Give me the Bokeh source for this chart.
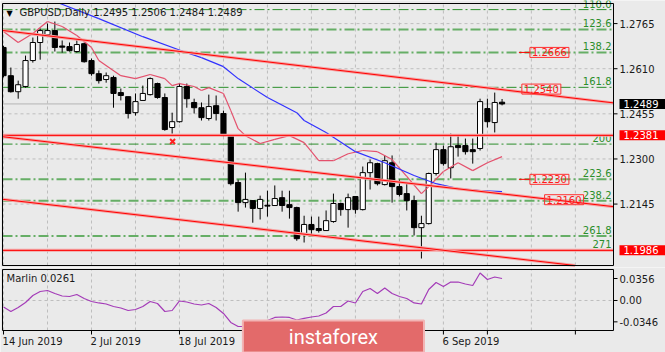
from bokeh.plotting import figure
from bokeh.layouts import column
from bokeh.models import Range1d, Label, ColumnDataSource
from bokeh.core.properties import value
from bokeh.embed import file_html
from bokeh.resources import INLINE

# ---------------- data ----------------
title_text = "GBPUSD,Daily  1.2495 1.2506 1.2484 1.2489"
opens = [1.2683, 1.2586, 1.2531, 1.2549, 1.2638, 1.2700, 1.2727, 1.2741, 1.2688, 1.2686,
         1.2669, 1.2696, 1.2638, 1.2593, 1.2573, 1.2580, 1.2528, 1.2514, 1.2459, 1.2501,
         1.2521, 1.2559, 1.2511, 1.2408, 1.2428, 1.2549, 1.2494, 1.2476, 1.2439, 1.2483,
         1.2456, 1.2380, 1.2219, 1.2150, 1.2157, 1.2130, 1.2141, 1.2140, 1.2167, 1.2143,
         1.2133, 1.2044, 1.2075, 1.2061, 1.2054, 1.2085, 1.2147, 1.2126, 1.2171, 1.2126,
         1.2253, 1.2284, 1.2212, 1.2287, 1.2205, 1.2181, 1.2157, 1.2064, 1.2078, 1.2250,
         1.2332, 1.2270, 1.2346, 1.2346, 1.2332, 1.2336, 1.2473, 1.2425, 1.2495]
highs = [1.2689, 1.2614, 1.2569, 1.2655, 1.2717, 1.2748, 1.2765, 1.2772, 1.2707, 1.2700,
         1.2713, 1.2700, 1.2645, 1.2604, 1.2597, 1.2586, 1.2542, 1.2514, 1.2525, 1.2552,
         1.2580, 1.2562, 1.2525, 1.2459, 1.2559, 1.2559, 1.2507, 1.2494, 1.2521, 1.2518,
         1.2466, 1.2380, 1.2229, 1.2253, 1.2157, 1.2174, 1.2191, 1.2209, 1.2191, 1.2191,
         1.2136, 1.2105, 1.2102, 1.2102, 1.2123, 1.2181, 1.2150, 1.2181, 1.2171, 1.2274,
         1.2298, 1.2287, 1.2312, 1.2312, 1.2229, 1.2215, 1.2174, 1.2105, 1.2253, 1.2356,
         1.2346, 1.2387, 1.2380, 1.2370, 1.2370, 1.2507, 1.2507, 1.2528, 1.2506]
lows = [1.2580, 1.2528, 1.2507, 1.2545, 1.2631, 1.2641, 1.2724, 1.2669, 1.2665, 1.2669,
        1.2665, 1.2631, 1.2586, 1.2559, 1.2562, 1.2476, 1.2501, 1.2439, 1.2449, 1.2501,
        1.2518, 1.2507, 1.2397, 1.2387, 1.2425, 1.2476, 1.2456, 1.2432, 1.2432, 1.2432,
        1.2377, 1.2209, 1.2119, 1.2133, 1.2081, 1.2092, 1.2102, 1.2140, 1.2119, 1.2095,
        1.2019, 1.2013, 1.2037, 1.2047, 1.2054, 1.2081, 1.2105, 1.2064, 1.2112, 1.2123,
        1.2195, 1.2209, 1.2209, 1.2150, 1.2171, 1.2123, 1.2037, 1.1958, 1.2075, 1.2243,
        1.2277, 1.2233, 1.2308, 1.2315, 1.2284, 1.2329, 1.2408, 1.2391, 1.2484]
closes = [1.2586, 1.2531, 1.2555, 1.2638, 1.2700, 1.2741, 1.2741, 1.2683, 1.2684, 1.2672,
          1.2693, 1.2634, 1.2593, 1.2569, 1.2586, 1.2525, 1.2518, 1.2456, 1.2497, 1.2525,
          1.2576, 1.2511, 1.2401, 1.2428, 1.2549, 1.2507, 1.2476, 1.2442, 1.2480, 1.2456,
          1.2380, 1.2215, 1.2150, 1.2161, 1.2130, 1.2161, 1.2138, 1.2164, 1.2140, 1.2133,
          1.2026, 1.2075, 1.2057, 1.2054, 1.2088, 1.2147, 1.2126, 1.2167, 1.2126, 1.2253,
          1.2287, 1.2215, 1.2294, 1.2205, 1.2178, 1.2157, 1.2064, 1.2078, 1.2250, 1.2332,
          1.2284, 1.2342, 1.2339, 1.2325, 1.2325, 1.2497, 1.2428, 1.2494, 1.2489]

date_tick_index = [0, 12, 24, 36, 48, 60]
date_tick_labels = ["14 Jun 2019", "2 Jul 2019", "18 Jul 2019", "5 Aug 2019", "21 Aug 2019", "6 Sep 2019"]
date_extra_ticks = [66, 78]
price_ticks = [1.2765, 1.2610, 1.2455, 1.2300, 1.2145]

fib_names = ["110.0", "123.6", "138.2", "161.8", "200", "223.6", "238.2", "261.8", "271"]
fib_prices = [1.2813, 1.2745, 1.2666, 1.2546, 1.2351, 1.2230, 1.2156, 1.2035, 1.1988]
fib_bold = ["123.6", "138.2", "223.6", "238.2", "261.8"]

red_levels = [1.2381, 1.1986]
current_price = 1.2489

# trend lines: (start index, start price, end index, end price)
trend_start_idx = [0, 0, 0]
trend_start_price = [1.2741, 1.2376, 1.2161]
trend_end_idx = [68, 68, 68]
trend_end_price = [1.2538, 1.2180, 1.1963]

ma_fast_idx = [0, 2, 4, 6, 8, 10, 12, 13, 16, 18, 20, 22, 23, 24, 26, 27, 28, 30, 31, 32,
               33, 35, 37, 39, 41, 43, 45, 47, 49, 51, 53, 55, 57, 58, 60, 62, 64, 66, 68]
ma_fast_val = [1.2738, 1.2700, 1.2731, 1.2772, 1.2755, 1.2724, 1.2683, 1.2638, 1.2586, 1.2576,
               1.2590, 1.2576, 1.2552, 1.2559, 1.2549, 1.2535, 1.2545, 1.2525, 1.2466, 1.2404,
               1.2380, 1.2353, 1.2367, 1.2380, 1.2356, 1.2294, 1.2294, 1.2318, 1.2329, 1.2325,
               1.2298, 1.2240, 1.2181, 1.2205, 1.2257, 1.2287, 1.2260, 1.2287, 1.2308]
ma_slow_idx = [7, 13, 19, 25, 27, 30, 32, 36, 40, 41, 44, 48, 52, 56, 59, 62, 65, 68]
ma_slow_val = [1.2841, 1.2782, 1.2720, 1.2665, 1.2648, 1.2617, 1.2576, 1.2511, 1.2459, 1.2432,
               1.2391, 1.2325, 1.2287, 1.2243, 1.2215, 1.2198, 1.2191, 1.2188]

marlin = [-0.0105, -0.0178, -0.0113, -0.0032, 0.0081, 0.0146, 0.0162, 0.0113, 0.0073, 0.0065,
          0.0097, 0.0032, -0.0016, -0.0040, -0.0057, -0.0097, -0.0121, -0.0162, -0.0146, -0.0097,
          -0.0016, -0.0049, -0.0178, -0.0162, -0.0008, -0.0024, -0.0057, -0.0073, -0.0049, -0.0113,
          -0.0210, -0.0356, -0.0421, -0.0421, -0.0405, -0.0372, -0.0324, -0.0275, -0.0267, -0.0275,
          -0.0316, -0.0291, -0.0267, -0.0251, -0.0202, -0.0097, -0.0097, -0.0008, -0.0040, 0.0146,
          0.0194, 0.0113, 0.0202, 0.0113, 0.0065, 0.0032, -0.0040, -0.0057, 0.0178, 0.0291,
          0.0227, 0.0299, 0.0299, 0.0267, 0.0243, 0.0445, 0.0340, 0.0380, 0.0356]
marlin_label = "Marlin 0.0261"
marlin_ticks = [0.0356, 0.0, -0.0346]
marlin_tick_labels = ["0.0356", "0.00", "-0.0346"]

note_texts = ["1.2666", "1.2540", "1.2230", "1.2160"]
note_prices = [1.2666, 1.2540, 1.2230, 1.2160]
note_idx = [71.8, 70.7, 71.8, 73.8]
leader_notes = ["1.2666", "1.2230"]

cross_idx = [23.06]
cross_price = [1.2360]

watermark = "instaforex"
watermark_idx = 45.0

# ---------------- geometry / styling ----------------
BG = "#EAEAEA"
FONT = "DejaVu Sans"
FS = "10px"
TXT = "#1A1A1A"
GRID_C = "#BEBEBE"
W = 665
# panel data limits
x_lo, x_hi = -0.14, 83.2
y_lo, y_hi = 1.1934, 1.2834
m_lo, m_hi = -0.0486, 0.0502
# panel pixel box inside each figure
PL, PR = 2, 613
MAIN_H, MAIN_PT, MAIN_PB = 267, 3, 265
LOW_H, LOW_PT, LOW_PB = 85, 2, 63

kx = (PR - PL) / (x_hi - x_lo)              # px per bar
ky = (MAIN_PB - MAIN_PT) / (y_hi - y_lo)    # px per price unit
km = (LOW_PB - LOW_PT) / (m_hi - m_lo)      # px per marlin unit

fx = Range1d(x_lo - PL / kx, x_hi + (W - PR) / kx)
fy = Range1d(y_lo - (MAIN_H - MAIN_PB) / ky, y_hi + MAIN_PT / ky)
fm = Range1d(m_lo - (LOW_H - LOW_PB) / km, m_hi + LOW_PT / km)


def clip_seg(x0, y0, x1, y1, lo, hi):
    dy = y1 - y0
    if dy == 0:
        return (x0, y0, x1, y1) if lo <= y0 <= hi else None
    ta, tb = (lo - y0) / dy, (hi - y0) / dy
    t0, t1 = max(0.0, min(ta, tb)), min(1.0, max(ta, tb))
    if t0 >= t1:
        return None
    return (x0 + (x1 - x0) * t0, y0 + dy * t0, x0 + (x1 - x0) * t1, y0 + dy * t1)


def clipped_polyline(fig, xs, ys, lo, hi, **kw):
    segs = [clip_seg(xs[k], ys[k], xs[k + 1], ys[k + 1], lo, hi) for k in range(len(xs) - 1)]
    segs = [s for s in segs if s]
    fig.segment(x0=[s[0] for s in segs], y0=[s[1] for s in segs],
                x1=[s[2] for s in segs], y1=[s[3] for s in segs], **kw)


def hline(fig, yv, **kw):
    fig.segment(x0=[x_lo], y0=[yv], x1=[x_hi], y1=[yv], **kw)


def new_fig(h, yr):
    f = figure(width=W, height=h, x_range=fx, y_range=yr, output_backend="svg",
               toolbar_location=None, x_axis_location=None, y_axis_location=None,
               min_border=0, background_fill_color=BG, border_fill_color=BG,
               outline_line_color=None)
    f.grid.visible = False
    return f


grid_x = list(range(0, 84, 6))

# ================= main panel =================
p = new_fig(MAIN_H, fy)

# grid
p.segment(x0=grid_x, y0=[y_lo] * len(grid_x), x1=grid_x, y1=[y_hi] * len(grid_x),
          line_color=GRID_C, line_dash="3 3", line_width=1)
p.segment(x0=[x_lo] * len(price_ticks), y0=price_ticks, x1=[x_hi] * len(price_ticks),
          y1=price_ticks, line_color=GRID_C, line_dash="3 3", line_width=1)

# fib levels
for name, pr in zip(fib_names, fib_prices):
    bold = name in fib_bold
    hline(p, pr, line_color="#66AE66" if bold else "#2A8E2A",
          line_width=2 if bold else 1, line_dash="10 3 2 3")
p.text(x=[x_hi - 2 / kx] * len(fib_names), y=[v + 2 / ky for v in fib_prices], text=fib_names,
       text_align="right", text_baseline="bottom", text_color="#2A8E2A",
       text_font=value(FONT), text_font_size=FS)

# current price line
hline(p, current_price, line_color="#B4B4B4", line_width=1)

# candles
idx = list(range(len(closes)))
half = 0.35
csrc = ColumnDataSource(dict(
    x=idx, h=highs, l=lows,
    left=[max(i - half, x_lo) for i in idx], right=[i + half for i in idx],
    top=[max(o, c) for o, c in zip(opens, closes)],
    bot=[min(o, c) for o, c in zip(opens, closes)],
    fill=["#FFFFFF" if c >= o else "#000000" for o, c in zip(opens, closes)]))
p.segment(x0="x", y0="h", x1="x", y1="l", source=csrc, line_color="#000000", line_width=1)
p.quad(left="left", right="right", top="top", bottom="bot", source=csrc,
       fill_color="fill", line_color="#000000", line_width=1)

# moving averages
clipped_polyline(p, ma_fast_idx, ma_fast_val, y_lo, y_hi, line_color="#E4506C", line_width=1.2)
clipped_polyline(p, ma_slow_idx, ma_slow_val, y_lo, y_hi, line_color="#3030FF", line_width=1.2)

# horizontal red levels
for lv in red_levels:
    hline(p, lv, line_color="#F5A3A3", line_width=3)
    hline(p, lv, line_color="#FF0000", line_width=1)

# trend lines
for i0, p0, i1, p1 in zip(trend_start_idx, trend_start_price, trend_end_idx, trend_end_price):
    g = (p1 - p0) / (i1 - i0)
    ya, yb = p0 + g * (x_lo - i0), p0 + g * (x_hi - i0)
    for col, lw in (("#F5A3A3", 3), ("#FF0000", 1)):
        clipped_polyline(p, [x_lo, x_hi], [ya, yb], y_lo, y_hi, line_color=col, line_width=lw)

p.scatter(cross_idx, cross_price, marker="x", size=7, line_color="#FF2020", line_width=2)

# price notes
for t, pr, xi in zip(note_texts, note_prices, note_idx):
    if t in leader_notes:
        p.segment(x0=[xi - 1.5], y0=[pr], x1=[xi], y1=[pr], line_color="#FF0000", line_width=1)
    p.add_layout(Label(x=xi, y=pr, text=t, text_align="left", text_baseline="middle",
                       text_color="#FF1A1A", text_font=FONT, text_font_size=FS,
                       border_line_color="#FF3030", border_line_width=1,
                       padding=dict(left=2, right=2, top=1, bottom=1)))

# panel border
p.quad(left=[x_lo], right=[x_hi], top=[y_hi], bottom=[y_lo], fill_color=None,
       line_color="#000000", line_width=1)

# price scale (right)
tick_len = 4 / kx
p.segment(x0=[x_hi] * len(price_ticks), y0=price_ticks, x1=[x_hi + tick_len] * len(price_ticks),
          y1=price_ticks, line_color="#000000", line_width=1)
p.text(x=[x_hi + 6 / kx] * len(price_ticks), y=price_ticks,
       text=["%.4f" % v for v in price_ticks], text_align="left", text_baseline="middle",
       text_color=TXT, text_font=value(FONT), text_font_size=FS)

box_vals = red_levels + [current_price]
box_cols = ["#FF0000", "#FF0000", "#000000"]
for lv, col in zip(box_vals, box_cols):
    p.add_layout(Label(x=x_hi + 6 / kx, y=lv, text="%.4f" % lv, text_align="left",
                       text_baseline="middle", text_color="#FFFFFF", text_font=FONT,
                       text_font_size=FS, background_fill_color=col,
                       padding=dict(left=4, right=12, top=1, bottom=1)))

# title
p.add_layout(Label(x=x_lo + 4 / kx, y=y_hi - 5 / ky, text="\u25bc", text_align="left",
                   text_baseline="top", text_color="#000000", text_font=FONT,
                   text_font_size="8px"))
p.add_layout(Label(x=x_lo + 17 / kx, y=y_hi - 3 / ky, text=title_text, text_align="left",
                   text_baseline="top", text_color=TXT, text_font=FONT, text_font_size=FS))

# ================= lower panel =================
q = new_fig(LOW_H, fm)
q.segment(x0=grid_x, y0=[m_lo] * len(grid_x), x1=grid_x, y1=[m_hi] * len(grid_x),
          line_color=GRID_C, line_dash="3 3", line_width=1)
hline(q, 0.0, line_color=GRID_C, line_dash="3 3", line_width=1)
q.line(idx, marlin, line_color="#A43CB8", line_width=1.2)
q.quad(left=[x_lo], right=[x_hi], top=[m_hi], bottom=[m_lo], fill_color=None,
       line_color="#000000", line_width=1)

q.segment(x0=[x_hi] * len(marlin_ticks), y0=marlin_ticks,
          x1=[x_hi + tick_len] * len(marlin_ticks), y1=marlin_ticks,
          line_color="#000000", line_width=1)
q.text(x=[x_hi + 6 / kx] * len(marlin_ticks), y=marlin_ticks, text=marlin_tick_labels,
       text_align="left", text_baseline="middle", text_color=TXT,
       text_font=value(FONT), text_font_size=FS)

q.add_layout(Label(x=x_lo + 4 / kx, y=m_hi - 3 / km, text=marlin_label, text_align="left",
                   text_baseline="top", text_color=TXT, text_font=FONT, text_font_size=FS))

# date scale
all_ticks = date_tick_index + date_extra_ticks
q.segment(x0=all_ticks, y0=[m_lo] * len(all_ticks), x1=all_ticks,
          y1=[m_lo - 4 / km] * len(all_ticks), line_color="#000000", line_width=1)
q.text(x=[i - 1 / kx for i in date_tick_index], y=[m_lo - 5 / km] * len(date_tick_index),
       text=date_tick_labels, text_align="left", text_baseline="top", text_color=TXT,
       text_font=value(FONT), text_font_size=FS)

# watermark
q.add_layout(Label(x=watermark_idx, y=m_lo - 6 / km, text=watermark, text_align="center",
                   text_baseline="middle", text_color="#FFFFFF", text_font="Roboto",
                   text_font_size="20px", background_fill_color="#E36A6A",
                   border_line_color="#F2B4B4", border_line_width=2,
                   padding=dict(left=46, right=46, top=4, bottom=4)))

layout = column(p, q, spacing=0)
open("out.html", "w").write(file_html(layout, INLINE))
